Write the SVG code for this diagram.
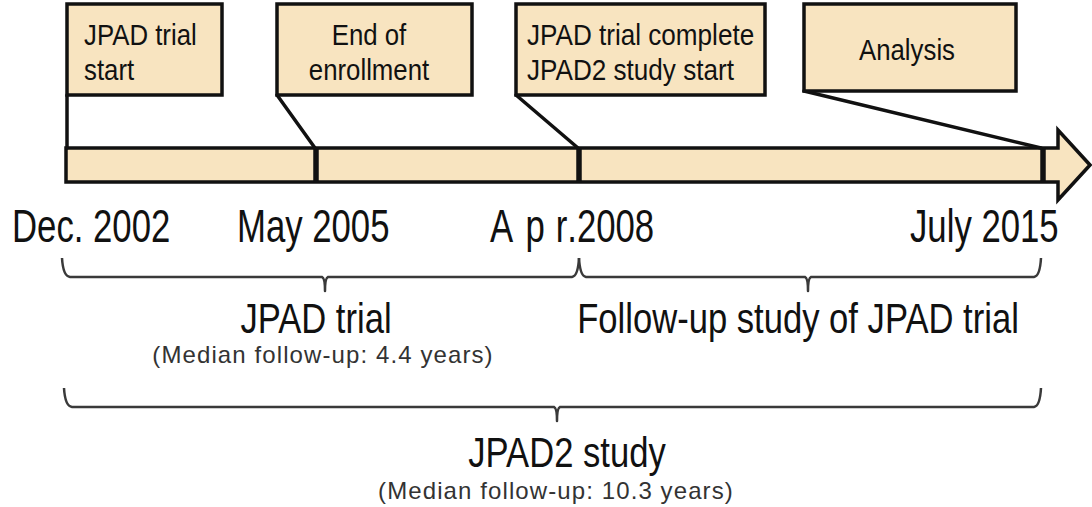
<svg xmlns="http://www.w3.org/2000/svg" width="1092" height="507" viewBox="0 0 1092 507">
<style>
.box{fill:#F8E4C0;stroke:#111;stroke-width:3.5}
.bt{font-family:"Liberation Sans",Arial,sans-serif;font-size:30px;fill:#111}
.date{font-family:"Liberation Sans",Arial,sans-serif;font-size:46px;fill:#111}
.lbl{font-family:"Liberation Sans",Arial,sans-serif;font-size:43px;fill:#111}
.sub{font-family:"Liberation Sans",Arial,sans-serif;font-size:24px;fill:#333;letter-spacing:1.1px}
.con{fill:none;stroke:#111;stroke-width:3.5;stroke-linecap:round}
.div{stroke:#111;stroke-width:5.5}
.brace{fill:none;stroke:#3a3a3a;stroke-width:2.5;stroke-linejoin:round}
</style>
<rect width="1092" height="507" fill="#fff"/>
<g id="timeline">
<path d="M66,148 H1058 V130 L1090,165 L1058,200 V182 H66 Z" fill="#F8E4C0" stroke="#111" stroke-width="3.5" stroke-linejoin="miter"/>
<line class="div" x1="316" y1="148" x2="316" y2="182"/>
<line class="div" x1="579" y1="148" x2="579" y2="182"/>
<line class="div" x1="1043" y1="148" x2="1043" y2="182"/>
</g>
<g id="connectors">
<line class="con" x1="67" y1="95" x2="67" y2="148"/>
<line class="con" x1="277" y1="95" x2="315" y2="148"/>
<line class="con" x1="516" y1="95" x2="578" y2="148"/>
<line class="con" x1="804" y1="91" x2="1041" y2="148"/>
</g>
<g id="box-start">
<rect class="box" x="67" y="4" width="155" height="91"/>
<text class="bt" transform="translate(84,45) scale(0.86,1)">JPAD trial</text>
<text class="bt" transform="translate(84,80) scale(0.86,1)">start</text>
</g>
<g id="box-enroll">
<rect class="box" x="277" y="4" width="195" height="91"/>
<text class="bt" text-anchor="middle" transform="translate(369,45) scale(0.86,1)">End of</text>
<text class="bt" text-anchor="middle" transform="translate(369,80) scale(0.86,1)">enrollment</text>
</g>
<g id="box-complete">
<rect class="box" x="516" y="4" width="249" height="91"/>
<text class="bt" transform="translate(527,45) scale(0.87,1)">JPAD trial complete</text>
<text class="bt" transform="translate(527,80) scale(0.87,1)">JPAD2 study start</text>
</g>
<g id="box-analysis">
<rect class="box" x="804" y="4" width="212" height="87"/>
<text class="bt" text-anchor="middle" transform="translate(907,60) scale(0.86,1)">Analysis</text>
</g>
<g id="dates">
<text class="date" transform="translate(12,242) scale(0.755,1)">Dec. 2002</text>
<text class="date" transform="translate(237,242) scale(0.755,1)">May 2005</text>
<text class="date" transform="translate(490,242) scale(0.755,1)"><tspan x="0">A</tspan><tspan x="47">p</tspan><tspan x="87">r</tspan>.2008</text>
<text class="date" transform="translate(910,242) scale(0.755,1)">July 2015</text>
</g>
<g id="brace-jpad">
<path class="brace" d="M62,258 Q63,276 70,277 H322 Q325,278 325,291 Q325,278 328,277 H572 Q578,276 579,258"/>
<text class="lbl" text-anchor="middle" transform="translate(316,333) scale(0.805,1)">JPAD trial</text>
<text class="sub" text-anchor="middle" x="323" y="363">(Median follow-up: 4.4 years)</text>
</g>
<g id="brace-followup">
<path class="brace" d="M579,258 Q580,276 586,277 H805 Q808,278 808,291 Q808,278 811,277 H1034 Q1040,276 1041,258"/>
<text class="lbl" text-anchor="middle" transform="translate(798,333) scale(0.805,1)">Follow-up study of JPAD trial</text>
</g>
<g id="brace-jpad2">
<path class="brace" d="M64,388 Q65,406 72,407 H554 Q557,408 557,421 Q557,408 560,407 H1034 Q1040,406 1041,388"/>
<text class="lbl" text-anchor="middle" transform="translate(567,467) scale(0.805,1)">JPAD2 study</text>
<text class="sub" text-anchor="middle" x="556" y="499">(Median follow-up: 10.3 years)</text>
</g>
</svg>
